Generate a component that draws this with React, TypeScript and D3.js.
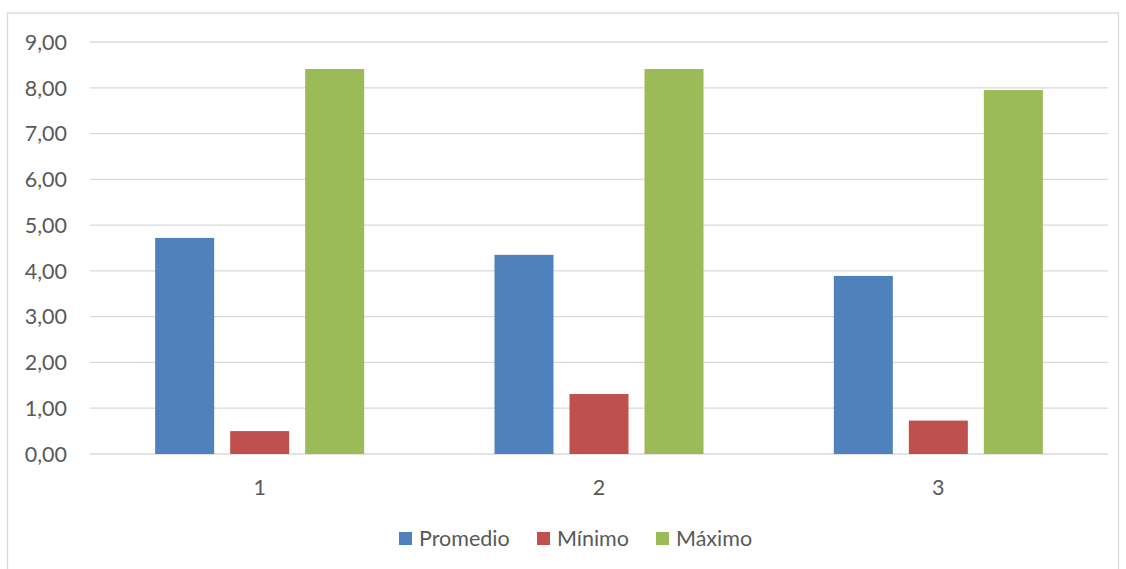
import React from "react";
import * as d3 from "d3";

const categories = ["1", "2", "3"];
const seriesNames = ["Promedio", "Mínimo", "Máximo"];
const promedio = [4.72, 4.35, 3.89];
const minimo = [0.5, 1.31, 0.73];
const maximo = [8.41, 8.41, 7.95];
const yTicks = [0, 1, 2, 3, 4, 5, 6, 7, 8, 9];
const colors = ["#4f81bd", "#c0504d", "#9bbb59"];

const W = 1126;
const H = 569;
const plotLeft = 90;
const plotRight = 1108;
const plotTop = 42;
const plotBottom = 454;
const FONT = "Lato, 'Open Sans', sans-serif";
const TEXT = "#595959";
const GRID = "#d9d9d9";
const FS = 21.5;

export default function App() {
  const values = [promedio, minimo, maximo];
  const x0 = d3.scaleBand<string>().domain(categories).range([plotLeft, plotRight]).padding(0);
  const groupW = x0.bandwidth() * 0.616;
  const x1 = d3
    .scaleBand<string>()
    .domain(seriesNames)
    .range([(x0.bandwidth() - groupW) / 2, (x0.bandwidth() + groupW) / 2])
    .paddingInner(0.2133)
    .paddingOuter(0);
  const y = d3.scaleLinear().domain([0, 9]).range([plotBottom, plotTop]);
  const fmt = (v: number) => v.toFixed(2).replace(".", ",");

  const legendItems = [
    { name: seriesNames[0], x: 399 },
    { name: seriesNames[1], x: 537 },
    { name: seriesNames[2], x: 656 },
  ];

  return (
    <svg
      width={W}
      height={H}
      style={{ position: "absolute", left: 0, top: 0, background: "#fff" }}
      fontFamily={FONT}
    >
      <rect x={7.5} y={13} width={1111} height={600} fill="#fff" stroke={GRID} strokeWidth={1.3} />
      {yTicks.map((t) => (
        <g key={t}>
          <line x1={plotLeft} x2={plotRight} y1={y(t)} y2={y(t)} stroke={GRID} strokeWidth={1.3} />
          <text x={67} y={y(t)} dy="0.36em" textAnchor="end" fontSize={FS} fill={TEXT}>
            {fmt(t)}
          </text>
        </g>
      ))}
      {categories.map((c, ci) => (
        <g key={c} transform={`translate(${x0(c)},0)`}>
          {seriesNames.map((s, si) => (
            <rect
              key={s}
              x={x1(s)}
              y={y(values[si][ci])}
              width={x1.bandwidth()}
              height={plotBottom - y(values[si][ci])}
              fill={colors[si]}
            />
          ))}
          <text x={x0.bandwidth() / 2} y={487} dy="0.36em" textAnchor="middle" fontSize={FS} fill={TEXT}>
            {c}
          </text>
        </g>
      ))}
      {legendItems.map((l, i) => (
        <g key={l.name}>
          <rect x={l.x} y={532} width={13} height={13} fill={colors[i]} />
          <text x={l.x + 20} y={538.5} dy="0.36em" fontSize={FS} fill={TEXT}>
            {l.name}
          </text>
        </g>
      ))}
    </svg>
  );
}
